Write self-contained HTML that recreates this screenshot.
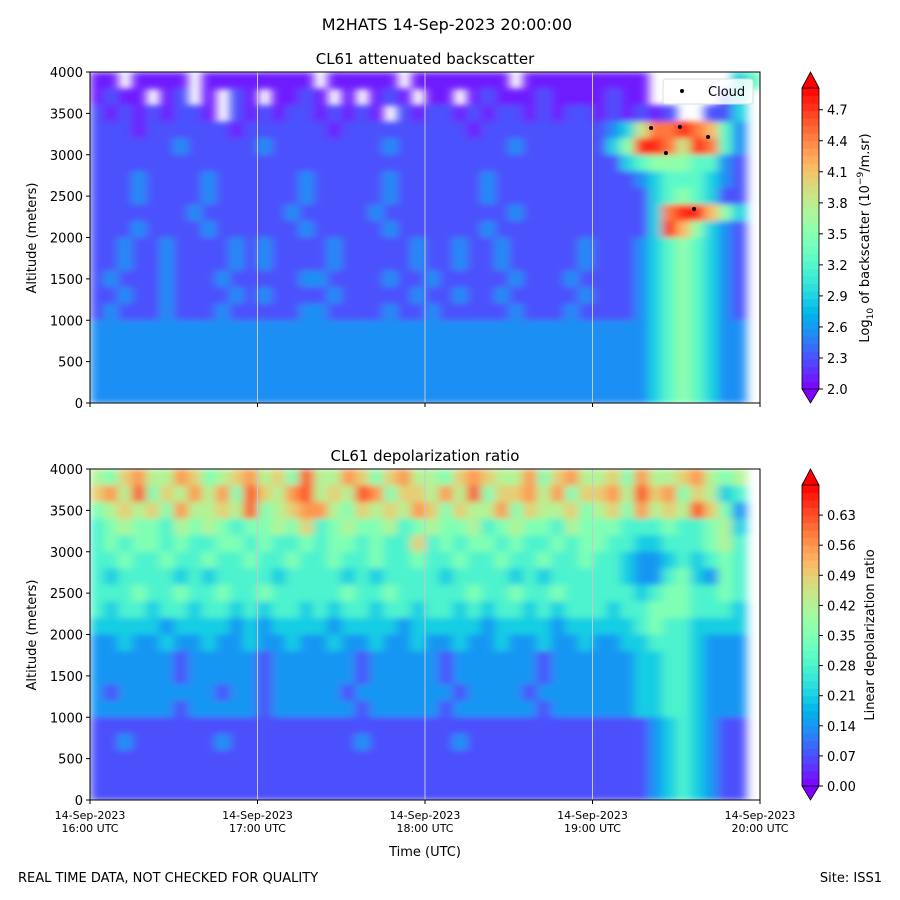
<!DOCTYPE html>
<html><head><meta charset="utf-8"><style>
body{margin:0;background:#fff}
svg{display:block;font-family:"DejaVu Sans","Liberation Sans",sans-serif}
</style></head><body>
<svg id="fig" width="900" height="900" viewBox="0 0 900 900">
<defs>
<clipPath id="clipTop"><rect x="90" y="72" width="670" height="331"/></clipPath>
<clipPath id="clipBot"><rect x="90" y="469" width="670" height="331"/></clipPath>
<filter id="soft" x="-5%" y="-5%" width="110%" height="110%"><feGaussianBlur stdDeviation="5 3"/></filter>
</defs>
<rect width="900" height="900" fill="#fff"/>
<text x="447" y="30" font-size="16" text-anchor="middle">M2HATS 14-Sep-2023 20:00:00</text>
<text x="425" y="64" font-size="15" text-anchor="middle">CL61 attenuated backscatter</text>
<text x="425" y="461" font-size="15" text-anchor="middle">CL61 depolarization ratio</text>
<g id="topHeat" clip-path="url(#clipTop)"><g id="topCells" filter="url(#soft)"></g></g>
<g id="botHeat" clip-path="url(#clipBot)"><g id="botCells" filter="url(#soft)"></g></g>
<g id="overlay"></g>
<text x="18" y="882" font-size="13">REAL TIME DATA, NOT CHECKED FOR QUALITY</text>
<text x="882" y="882" font-size="13" text-anchor="end">Site: ISS1</text>
<text x="425" y="856" font-size="13" text-anchor="middle">Time (UTC)</text>
<text transform="translate(36,238) rotate(-90)" font-size="13" text-anchor="middle">Altitude (meters)</text>
<text transform="translate(36,635) rotate(-90)" font-size="13" text-anchor="middle">Altitude (meters)</text>
<text transform="translate(869,238) rotate(-90)" font-size="13" text-anchor="middle">Log<tspan font-size="9" dy="4">10</tspan><tspan dy="-4"> of backscatter (10</tspan><tspan font-size="9" dy="-6">−9</tspan><tspan dy="6">/m.sr)</tspan></text>
<text transform="translate(874,635) rotate(-90)" font-size="13" text-anchor="middle">Linear depolarization ratio</text>
</svg>
<script>
// ---- data ----
const timeStartMin = 0, binMinutes = 5, nCols = 48;
const altBinMeters = 200;
const topLevels = [2.1,2.3,2.55,2.9,3.25,3.55,3.85,4.15,4.45,4.75];
const botLevels = [0.00,0.07,0.14,0.21,0.28,0.35,0.42,0.49,0.56,0.63];
const topTickValues = [2.0,2.3,2.6,2.9,3.2,3.5,3.8,4.1,4.4,4.7];
const topTickLabels = ["2.0","2.3","2.6","2.9","3.2","3.5","3.8","4.1","4.4","4.7"];
const botTickValues = [0.00,0.07,0.14,0.21,0.28,0.35,0.42,0.49,0.56,0.63];
const botTickLabels = ["0.00","0.07","0.14","0.21","0.28","0.35","0.42","0.49","0.56","0.63"];
const altTicks = [0,500,1000,1500,2000,2500,3000,3500,4000];
const timeTicks = [0,60,120,180,240];
const timeTickLabels = [["14-Sep-2023","16:00 UTC"],["14-Sep-2023","17:00 UTC"],["14-Sep-2023","18:00 UTC"],["14-Sep-2023","19:00 UTC"],["14-Sep-2023","20:00 UTC"]];
// rows top (3800-4000 m) to bottom (0-200 m); chars = level index, x = no data
const topRows = [
"00x0000x00000000x00000x0000000x000000"+"000xxxxxx34x",
"0100x01x0x10x0010x0x010x00x010001000"+"0100xxxxx13x",
"101010110x10101101010x10110101101011"+"010101xx113x",
"111011111101111110111111111011111111"+"12368898742x",
"111111211111211111111211111111211111"+"13599869842x",
"111111111111111111111111111111111111"+"11345554421x",
"111211112111111211111211111121111111"+"11123444321x",
"111211112111111211111211111121111111"+"11113454311x",
"111111121111112111112111111111211111"+"11113899753x",
"111211112111111211111211111121111111"+"11113975321x",
"112112111121211112111112112112111112"+"11123454321x",
"112112111121211112111112112112111112"+"11123454321x",
"121112111211111221111211211111211121"+"11123454321x",
"112112111121211112111112112112111112"+"11123454321x",
"121112111211111221111211211111211121"+"11123454321x",
"222222222222222222222222222222222222"+"22223454322x",
"222222222222222222222222222222222222"+"22223454322x",
"222222222222222222222222222222222222"+"22223454322x",
"222222222222222222222222222222222222"+"22223454322x",
"222222222222222222222222222222222222"+"22223454322x"
];
const botRows = [
"657866875678675966875786657876685786"+"67586678656x",
"786957686859768967698577686957786857"+"78697857634x",
"567675866769567886576768757668576675"+"67586769752x",
"456554656545565745655645655645655465"+"55444544563x",
"454554544554544545545447454554544545"+"54433444564x",
"445445445445445445445445445445445445"+"44322343454x",
"434444343444434444343444434444343444"+"44322453254x",
"444544544544544444544544444544544544"+"44434554454x",
"434434434434344343443443443434434344"+"43445554443x",
"333332333323233332333323333323333233"+"33345443333x",
"223223223223223223223223223223223223"+"22334443222x",
"222222122222122222212222212222221222"+"22233443222x",
"222222122222122222212222212222221222"+"22233443222x",
"212222222122122222122222221222212222"+"22233443222x",
"222222122222122222212222212222221222"+"22233443222x",
"111111111111111111111111111111111111"+"11112343211x",
"112111111211111111121111112111111111"+"11112343211x",
"111111111111111111111111111111111111"+"11112343211x",
"111111111111111111111111111111111111"+"11112343211x",
"111111111111111111111111111111111111"+"11112343211x"
];
const cloudTimes = [201,211.3,221.4,206.3,216.4];
const cloudAlts = [3323,3335,3214,3021,2344];

// ---- scales ----
const X0=90, X1=760;
function xScale(m){return X0+(m/240)*(X1-X0);}
function yTop(a){return 403-(a/4000)*331;}
function yBot(a){return 800-(a/4000)*331;}
function rainbow(t){t=Math.max(0,Math.min(1,t));
 const r=Math.min(1,Math.abs(2*t-0.5)),g=Math.sin(Math.PI*t),b=Math.cos(Math.PI*t/2);
 return "rgb("+Math.round(r*255)+","+Math.round(g*255)+","+Math.round(b*255)+")";}
const NS="http://www.w3.org/2000/svg";
function mk(tag,attrs,parent){const e=document.createElementNS(NS,tag);for(const k in attrs)e.setAttribute(k,attrs[k]);parent.appendChild(e);return e;}

function drawHeat(rows,levels,vmin,vmax,yS,g,name){
 const nR=rows.length;
 rows.forEach((row,ri)=>{
  const aHi=(nR-ri)*altBinMeters, aLo=aHi-altBinMeters;
  for(let c=0;c<nCols;c++){
   const ch=row[c]; if(ch===undefined||ch==='x') continue;
   const v=levels[+ch];
   const t0=timeStartMin+c*binMinutes;
   const r=mk('rect',{x:xScale(t0),y:yS(aHi),width:xScale(t0+binMinutes)-xScale(t0)+0.6,height:yS(aLo)-yS(aHi)+0.6,fill:rainbow((v-vmin)/(vmax-vmin))},g);
   
   
  }
 });
}
drawHeat(topRows,topLevels,2.0,4.9,yTop,document.getElementById('topCells'),'backscatter-cell');
drawHeat(botRows,botLevels,0.0,0.70,yBot,document.getElementById('botCells'),'depolarization-cell');

const ov=document.getElementById('overlay');
function axes(y0,y1,yS,isBottom,prefix){
 [60,120,180].forEach(m=>{const l=mk('line',{x1:xScale(m),x2:xScale(m),y1:y0,y2:y1,stroke:'#c8c8c8','stroke-width':1},ov);
  
  });
 const fr=mk('rect',{x:X0,y:y0,width:X1-X0,height:y1-y0,fill:'none',stroke:'#000','stroke-width':1},ov);
 
 
 altTicks.forEach(a=>{const y=yS(a);
  mk('line',{x1:X0-4,x2:X0,y1:y,y2:y,stroke:'#000'},ov);
  const t=mk('text',{x:X0-7,y:y+5,'font-size':13,'text-anchor':'end'},ov);t.textContent=a;
  
  });
 timeTicks.forEach((m,i)=>{const x=xScale(m);
  mk('line',{x1:x,x2:x,y1:y1,y2:y1+4,stroke:'#000'},ov);
  if(isBottom){timeTickLabels[i].forEach((s,j)=>{const t=mk('text',{x:x,y:y1+19+j*13,'font-size':11,'text-anchor':'middle'},ov);t.textContent=s;
   
   });}
 });
}
axes(72,403,yTop,false,'top');
axes(469,800,yBot,true,'bottom');

function colorbar(yTopT,yBody0,yBody1,yBotT,vmin,vmax,labels,ticks,prefix){
 const x=802,w=17,n=40;
 for(let i=0;i<n;i++){const ya=yBody1-(i+1)*(yBody1-yBody0)/n;
  const r=mk('rect',{x:x,y:ya,width:w,height:(yBody1-yBody0)/n+0.5,fill:rainbow((i+0.5)/n)},ov);
  
  }
 const tt=mk('polygon',{points:`${x},${yBody0} ${x+w},${yBody0} ${x+w/2},${yTopT}`,fill:rainbow(1),stroke:'#000','stroke-width':0.8},ov);
 
 
 const tb=mk('polygon',{points:`${x},${yBody1} ${x+w},${yBody1} ${x+w/2},${yBotT}`,fill:rainbow(0),stroke:'#000','stroke-width':0.8},ov);
 
 
 mk('line',{x1:x,x2:x,y1:yBody0,y2:yBody1,stroke:'#000','stroke-width':0.8},ov);
 mk('line',{x1:x+w,x2:x+w,y1:yBody0,y2:yBody1,stroke:'#000','stroke-width':0.8},ov);
 ticks.forEach((v,i)=>{const y=yBody1-(v-vmin)/(vmax-vmin)*(yBody1-yBody0);
  mk('line',{x1:x+w,x2:x+w+4,y1:y,y2:y,stroke:'#000'},ov);
  const t=mk('text',{x:x+w+8,y:y+5,'font-size':13},ov);t.textContent=labels[i];
  
  });
}
colorbar(72,88,389,403,2.0,4.91,topTickLabels,topTickValues,'top');
colorbar(469,485,786,800,0.0,0.70,botTickLabels,botTickValues,'bottom');

cloudTimes.forEach((m,i)=>{const c=mk('circle',{cx:xScale(m),cy:yTop(cloudAlts[i]),r:2,fill:'#000'},ov);
 
 });
const lg=mk('g',{},ov);


mk('rect',{x:663,y:79,width:90,height:25,rx:3,fill:'#fff','fill-opacity':0.85,stroke:'#ddd'},lg);
mk('circle',{cx:682,cy:91,r:2,fill:'#000'},lg);
const lt=mk('text',{x:708,y:96,'font-size':13},lg);lt.textContent='Cloud';


</script>
</body></html>
